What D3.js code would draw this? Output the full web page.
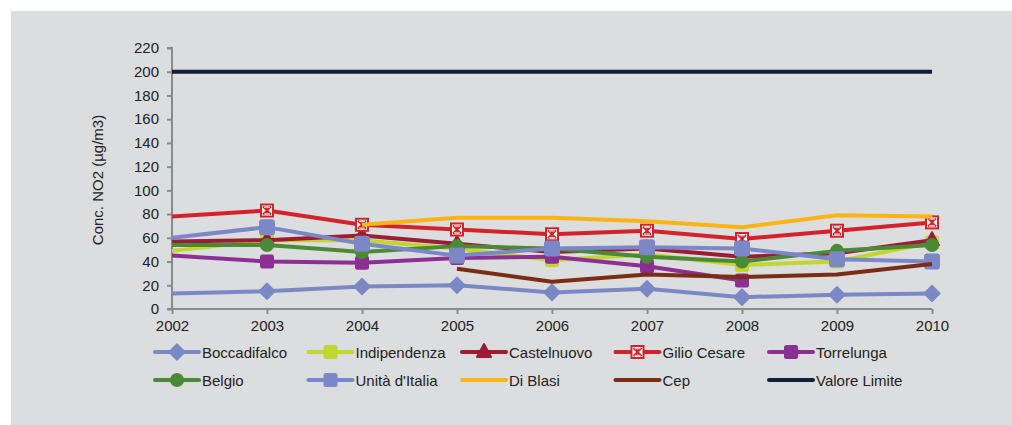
<!DOCTYPE html>
<html>
<head>
  <meta charset="utf-8" />
  <title>Conc. NO2</title>
  <script src="https://d3js.org/d3.v7.min.js"></script>
  <style>
    body { margin: 0; padding: 0; background: #fff; }
    svg { display: block; }
    text { font-family: "Liberation Sans", Arial, sans-serif; fill: #222; }
    .axis path, .axis line { stroke: #8a8a8a; stroke-width: 2; }
  </style>
</head>
<body>
  <svg width="1012" height="425"></svg>

  <script>
    const years = [2002, 2003, 2004, 2005, 2006, 2007, 2008, 2009, 2010];
    const yTicks = [0, 20, 40, 60, 80, 100, 120, 140, 160, 180, 200, 220];

    const boccadifalco = [13, 15, 19, 20, 14, 17, 10, 12, 13];
    const indipendenza = [49, 58, 58, 51, 41, 46, 37, 40, 56];
    const castelnuovo = [57, 58, 62, 55, 48, 51, 44, 47, 58];
    const gilioCesare = [78, 83, 71, 67, 63, 66, 59, 66, 73];
    const torrelunga = [45, 40, 39, 43, 44, 36, 24, null, null];
    const belgio = [54, 54, 48, 53, 51, 44, 40, 49, 54];
    const unitaItalia = [60, 69, 55, 45, 51, 52, 51, 42, 40];
    const diBlasi = [null, null, 71, 77, 77, 74, 69, 79, 78];
    const cep = [null, null, null, 34, 23, 29, 27, 29, 38];
    const valoreLimite = [200, 200, 200, 200, 200, 200, 200, 200, 200];

    const series = [
      { name: "Boccadifalco", values: boccadifalco, color: "#7b88c6", marker: "diamond" },
      { name: "Indipendenza", values: indipendenza, color: "#c3d531", marker: "square" },
      { name: "Castelnuovo", values: castelnuovo, color: "#9c1b35", marker: "triangle" },
      { name: "Gilio Cesare", values: gilioCesare, color: "#d2232a", marker: "cross" },
      { name: "Torrelunga", values: torrelunga, color: "#8c2f92", marker: "square" },
      { name: "Belgio", values: belgio, color: "#4a8a36", marker: "circle" },
      { name: "Unità d'Italia", values: unitaItalia, color: "#7b87c6", marker: "bigsquare" },
      { name: "Di Blasi", values: diBlasi, color: "#fbb416", marker: null },
      { name: "Cep", values: cep, color: "#7b2c16", marker: null },
      { name: "Valore Limite", values: valoreLimite, color: "#0f1f3c", marker: null }
    ];

    const svg = d3.select("svg");
    svg.append("rect").attr("x", 11).attr("y", 11).attr("width", 1001).attr("height", 414)
      .attr("fill", "#dcdddf");

    const margin = { top: 48, left: 172 };
    const innerWidth = 760, innerHeight = 261;
    const g = svg.append("g").attr("transform", `translate(${margin.left},${margin.top})`);

    const x = d3.scaleLinear().domain([2002, 2010]).range([0, innerWidth]);
    const y = d3.scaleLinear().domain([0, 220]).range([innerHeight, 0]);

    g.append("g").attr("class", "axis")
      .call(d3.axisLeft(y).tickValues(yTicks).tickSize(5).tickPadding(8))
      .attr("font-size", null).attr("font-family", null)
      .call(a => a.select(".domain").attr("d", `M-5,${innerHeight}H0V0H-5`));

    g.append("g").attr("class", "axis")
      .attr("transform", `translate(0,${innerHeight})`)
      .call(d3.axisBottom(x).tickValues(years).tickFormat(d3.format("d")).tickSize(5).tickPadding(6))
      .attr("font-size", null).attr("font-family", null)
      .call(a => a.select(".domain").attr("d", `M0,0H${innerWidth}`));

    g.selectAll(".axis text").attr("fill", "#222").style("font-size", "15px");

    svg.append("text")
      .attr("transform", "translate(103,180) rotate(-90)")
      .attr("text-anchor", "middle")
      .style("font-size", "15px")
      .text("Conc. NO2 (µg/m3)");

    const line = d3.line()
      .defined(d => d.v != null)
      .x(d => x(d.year))
      .y(d => y(d.v));

    function drawMarker(sel, type, color) {
      if (type === "diamond") {
        sel.append("path").attr("d", "M0,-8L8,0L0,8L-8,0Z").attr("fill", color)
          .attr("stroke", color).attr("stroke-linejoin", "round").attr("stroke-width", 1.5);
      } else if (type === "square") {
        sel.append("rect").attr("x", -7).attr("y", -7).attr("width", 14).attr("height", 14)
          .attr("rx", 2.5).attr("fill", color);
      } else if (type === "bigsquare") {
        sel.append("rect").attr("x", -8).attr("y", -8).attr("width", 16).attr("height", 16)
          .attr("rx", 3).attr("fill", color);
      } else if (type === "triangle") {
        sel.append("path").attr("d", "M0,-8L7,5L-7,5Z").attr("fill", color)
          .attr("stroke", color).attr("stroke-linejoin", "round").attr("stroke-width", 2);
      } else if (type === "circle") {
        sel.append("circle").attr("r", 7).attr("fill", color);
      } else if (type === "cross") {
        sel.append("rect").attr("x", -6).attr("y", -6).attr("width", 12).attr("height", 12)
          .attr("fill", "#fff").attr("stroke", color).attr("stroke-width", 2);
        sel.append("path").attr("d", "M-4,-4L4,4M4,-4L-4,4").attr("stroke", color).attr("stroke-width", 2);
        sel.append("path").attr("d", "M-4,-4H4L0,0ZM-4,4H4L0,0Z").attr("fill", color).attr("opacity", 0.9);
        sel.append("path").attr("d", "M-3,-3.3H3M-3,3.3H3").attr("stroke", "#fff").attr("stroke-width", 0.8);
      }
    }

    series.forEach(s => {
      const pts = years.map((year, i) => ({ year, v: s.values[i] }));
      g.append("path")
        .datum(pts)
        .attr("fill", "none")
        .attr("stroke", s.color)
        .attr("stroke-width", 4)
        .attr("stroke-linejoin", "round")
        .attr("d", line);
      if (s.marker) {
        g.selectAll(null)
          .data(pts.filter(d => d.v != null && d.year !== 2002))
          .enter().append("g")
          .attr("transform", d => `translate(${x(d.year)},${y(d.v)})`)
          .each(function () { drawMarker(d3.select(this), s.marker, s.color); });
      }
    });

    // legend
    const legend = svg.append("g");
    series.forEach((s, i) => {
      const col = i % 5, row = Math.floor(i / 5);
      const lg = legend.append("g").attr("transform", `translate(${155 + col * 153.5},${352 + row * 28})`);
      lg.append("line").attr("x1", 0).attr("x2", 44).attr("stroke", s.color).attr("stroke-width", 4)
        .attr("stroke-linecap", "round");
      if (s.marker) {
        const m = lg.append("g").attr("transform", "translate(22,0)");
        drawMarker(m, s.marker === "bigsquare" ? "square" : s.marker, s.color);
      }
      lg.append("text").attr("x", 47).attr("y", 5.5).style("font-size", "15px").text(s.name);
    });
  </script>
</body>
</html>
